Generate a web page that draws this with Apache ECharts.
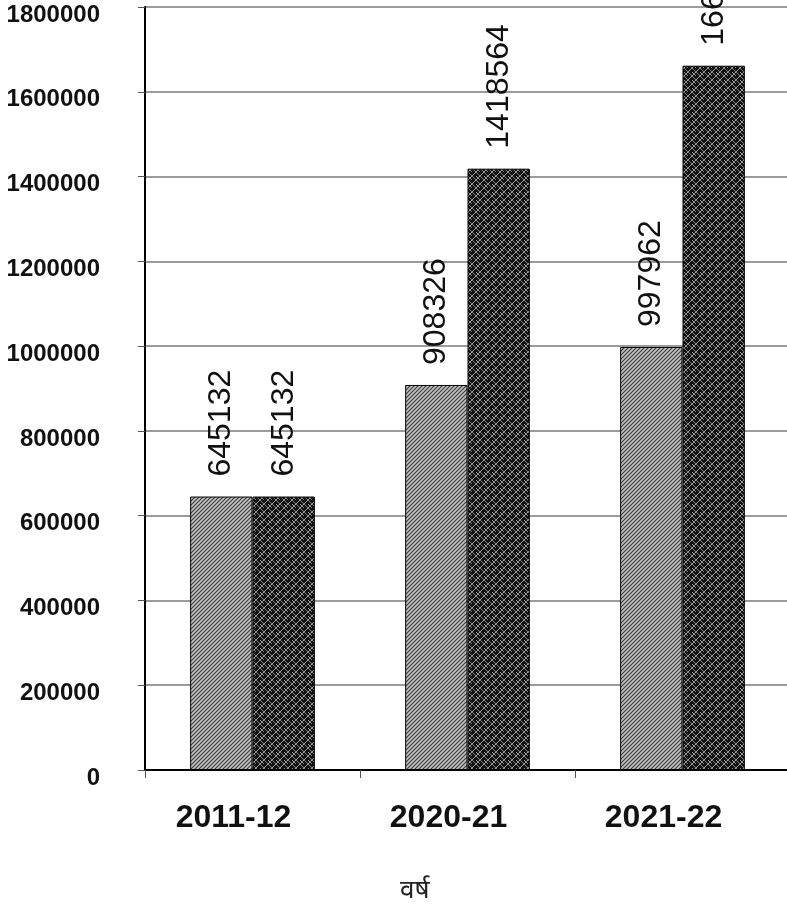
<!DOCTYPE html>
<html>
<head>
<meta charset="utf-8">
<script src="https://cdn.jsdelivr.net/npm/echarts@6/dist/echarts.min.js"></script>
<style>
html,body{margin:0;padding:0;background:#fff;}
#chart{width:787px;height:910px;}
</style>
</head>
<body>
<div id="chart"></div>
<script>
const categories = ['2011-12', '2020-21', '2021-22'];
const seriesA = [645132, 908326, 997962];
const seriesB = [645132, 1418564, 1661500];
const yTicks = [0, 200000, 400000, 600000, 800000, 1000000, 1200000, 1400000, 1600000, 1800000];
const xAxisTitle = 'वर्ष';

function hatchPattern() {
  const c = document.createElement('canvas');
  c.width = 4; c.height = 4;
  const g = c.getContext('2d');
  g.fillStyle = '#c2c2c2';
  g.fillRect(0, 0, 4, 4);
  g.strokeStyle = '#3a3a3a';
  g.lineWidth = 1.1;
  g.beginPath();
  g.moveTo(-1, 5); g.lineTo(5, -1);
  g.moveTo(-1, 1); g.lineTo(1, -1);
  g.moveTo(3, 5); g.lineTo(5, 3);
  g.stroke();
  return c;
}
function weavePattern() {
  const c = document.createElement('canvas');
  c.width = 8; c.height = 8;
  const g = c.getContext('2d');
  g.fillStyle = '#121212';
  g.fillRect(0, 0, 8, 8);
  g.strokeStyle = '#a0a0a0';
  g.lineWidth = 1;
  g.beginPath();
  g.moveTo(-1, 9); g.lineTo(9, -1);
  g.moveTo(-1, 1); g.lineTo(1, -1);
  g.moveTo(7, 9); g.lineTo(9, 7);
  g.stroke();
  g.strokeStyle = '#8a8a8a';
  g.lineWidth = 0.9;
  g.beginPath();
  g.moveTo(-1, -1); g.lineTo(9, 9);
  g.moveTo(3, -1); g.lineTo(9, 5);
  g.stroke();
  return c;
}

const chart = echarts.init(document.getElementById('chart'), null, {renderer: 'canvas'});
const labelStyle = {
  show: true,
  position: 'top',
  distance: 20,
  rotate: 90,
  align: 'left',
  verticalAlign: 'middle',
  fontFamily: 'Liberation Sans, Arial, sans-serif',
  fontSize: 32,
  color: '#111',
  formatter: function (p) { return String(p.value); }
};
chart.setOption({
  animation: false,
  backgroundColor: '#fff',
  title: {
    text: xAxisTitle,
    left: 395,
    top: 873,
    textStyle: {fontFamily: 'Noto Sans, sans-serif', fontSize: 26, fontWeight: 'normal', color: '#222'}
  },
  grid: {left: 145, top: 7, width: 645, bottom: 140, containLabel: false, outerBoundsMode: 'none'},
  xAxis: {
    type: 'category',
    data: categories,
    axisLine: {show: true, lineStyle: {color: '#000', width: 2}},
    axisTick: {show: true, length: 8, lineStyle: {color: '#555', width: 1}},
    axisLabel: {
      margin: 32,
      padding: [0, 38, 0, 0],
      fontFamily: 'Liberation Sans, Arial, sans-serif',
      fontWeight: 'bold',
      fontSize: 32,
      color: '#111'
    },
    splitLine: {show: false}
  },
  yAxis: {
    type: 'value',
    min: yTicks[0],
    max: yTicks[yTicks.length - 1],
    interval: yTicks[1] - yTicks[0],
    axisLine: {show: true, lineStyle: {color: '#000', width: 2}},
    axisTick: {show: true, length: 7, lineStyle: {color: '#555', width: 1}},
    axisLabel: {
      margin: 45,
      verticalAlign: 'top',
      lineHeight: 16,
      fontFamily: 'Liberation Sans, Arial, sans-serif',
      fontWeight: 'bold',
      fontSize: 24,
      color: '#111',
      formatter: function (v) { return String(v); }
    },
    splitLine: {show: true, lineStyle: {color: '#7a7a7a', width: 1.5}}
  },
  series: [
    {
      type: 'bar',
      name: 'A',
      data: seriesA,
      barGap: '0%',
      barCategoryGap: '42%',
      itemStyle: {color: {image: hatchPattern(), repeat: 'repeat'}, borderColor: '#000', borderWidth: 1},
      label: labelStyle
    },
    {
      type: 'bar',
      name: 'B',
      data: seriesB,
      itemStyle: {color: {image: weavePattern(), repeat: 'repeat'}, borderColor: '#000', borderWidth: 1},
      label: labelStyle
    }
  ]
});
</script>
</body>
</html>
